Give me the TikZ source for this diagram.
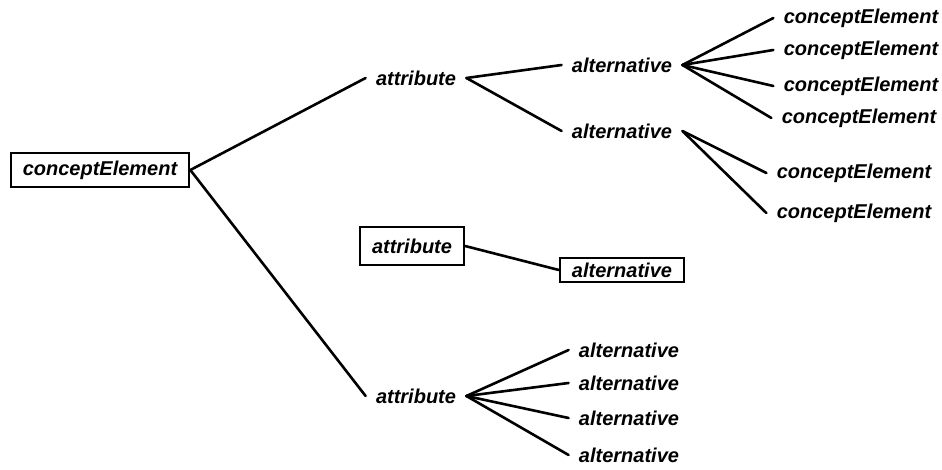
\documentclass[tikz,border=0pt]{standalone}
\usepackage{fontspec}
\setmainfont{Liberation Sans}
\tikzset{
  lbl/.style={font=\bfseries\itshape,inner sep=5pt},
  box/.style={lbl,draw,line width=1.1pt,inner xsep=6pt,inner ysep=4pt},
  br/.style={line width=1.3pt,line cap=round},
}

\begin{document}
\begin{tikzpicture}[x=5pt, y=-5pt]
  \useasboundingbox (0,0) rectangle (94.2,47.0);
  % root and its attributes
  \node[box] (ce) at (10.0,17.0) {conceptElement};
  \node[lbl] (at1) at (41.6,7.8) {attribute};
  \node[box, inner ysep=6pt] (at2) at (41.2,24.6) {attribute};
  \node[lbl] (at3) at (41.6,39.6) {attribute};
  % alternatives
  \node[lbl] (al1) at (62.2,6.5) {alternative};
  \node[lbl] (al2) at (62.2,13.1) {alternative};
  \node[box, inner ysep=2.5pt] (al3) at (62.2,27.0) {alternative};
  \foreach \n/\y in {4/35.0,5/38.3,6/41.8,7/45.5}
    \node[lbl] (al\n) at (62.9,\y) {alternative};
  % leaf elements
  \foreach \n/\x/\y in {1/86.1/1.8,2/86.1/5.0,3/86.1/8.6,4/85.9/11.8,5/85.4/17.3,6/85.4/21.3}
    \node[lbl] (ce\n) at (\x,\y) {conceptElement};
  \foreach \a/\b in {ce/at1,ce/at3,at1/al1,at1/al2,at2/al3,
                     al1/ce1,al1/ce2,al1/ce3,al1/ce4,al2/ce5,al2/ce6,
                     at3/al4,at3/al5,at3/al6,at3/al7}
    \draw[br] (\a.east) -- (\b.west);
\end{tikzpicture}
\end{document}
